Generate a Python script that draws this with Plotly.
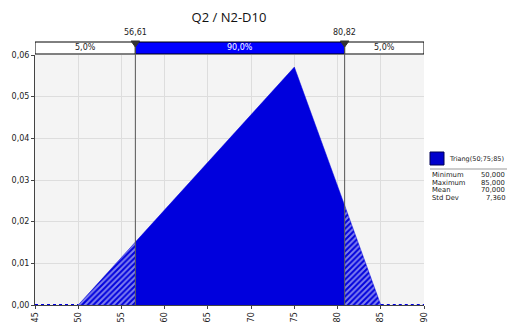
import plotly.graph_objects as go

# ---- data ----
title = "Q2 / N2-D10"
left_tail_x = [50, 56.61]
left_tail_y = [0.0, 0.0151]
main_x = [56.61, 75, 80.82]
main_y = [0.0151, 0.0571, 0.0239]
right_tail_x = [80.82, 85]
right_tail_y = [0.0239, 0.0]
base_left_x = [45, 50]
base_right_x = [85, 90]
lower_cut = 56.61
upper_cut = 80.82
cut_labels = ["56,61", "80,82"]
band_labels = ["5,0%", "90,0%", "5,0%"]
x_ticks = [45, 50, 55, 60, 65, 70, 75, 80, 85, 90]
y_ticks = [0.00, 0.01, 0.02, 0.03, 0.04, 0.05, 0.06]
dist_name = "Triang(50;75;85)"
stat_labels = ["Minimum", "Maximum", "Mean", "Std Dev"]
stat_values = ["50,000", "85,000", "70,000", "7,360"]

W, H = 507, 322
L, R, T, B = 35, 83, 55, 17
PW, PH = W - L - R, H - T - B
FONT = "DejaVu Sans"
BLUE = "#0000dd"

def px(p):  # pixel x -> paper
    return (p - L) / PW

def py(p):  # pixel y -> paper
    return (H - B - p) / PH

fig = go.Figure()
hatch = dict(shape="/", bgcolor=BLUE, fgcolor="white", size=4, solidity=0.5)
fig.add_trace(go.Scatter(x=left_tail_x, y=left_tail_y, mode="lines", fill="tozeroy",
                         line=dict(color=BLUE, width=0.5), fillpattern=hatch, fillcolor=BLUE))
fig.add_trace(go.Scatter(x=main_x, y=main_y, mode="lines", fill="tozeroy",
                         line=dict(color=BLUE, width=0.5), fillcolor=BLUE))
fig.add_trace(go.Scatter(x=right_tail_x, y=right_tail_y, mode="lines", fill="tozeroy",
                         line=dict(color=BLUE, width=0.5), fillpattern=hatch, fillcolor=BLUE))
for bx in (base_left_x, base_right_x):
    fig.add_trace(go.Scatter(x=bx, y=[0, 0], mode="lines",
                             line=dict(color=BLUE, width=2, dash="dot"), cliponaxis=False))

shapes = []
# top band
yb0, yb1 = py(54), py(42)
segs = [(x_ticks[0], lower_cut, "white"), (lower_cut, upper_cut, "#0000ff"), (upper_cut, x_ticks[-1], "white")]
for (a, b, c) in segs:
    shapes.append(dict(type="rect", xref="x", yref="paper", x0=a, x1=b, y0=yb0, y1=yb1,
                       fillcolor=c, line=dict(color="black", width=1)))
# cut lines and triangles
for c in (lower_cut, upper_cut):
    shapes.append(dict(type="line", xref="x", yref="paper", x0=c, x1=c, y0=0, y1=yb1,
                       line=dict(color="#555555", width=1)))
    hw = 0.5
    shapes.append(dict(type="path", xref="x", yref="paper",
                       path=f"M {c-hw},{py(41)} L {c+hw},{py(41)} L {c},{py(47)} Z",
                       fillcolor="#333333", line=dict(color="#333333", width=1)))
# legend swatch & separator
shapes.append(dict(type="rect", xref="paper", yref="paper", x0=px(430), x1=px(444), y0=py(165), y1=py(152),
                   fillcolor="#0000cc", line=dict(color="#000055", width=1)))
shapes.append(dict(type="line", xref="paper", yref="paper", x0=px(430), x1=px(507), y0=py(169), y1=py(169),
                   line=dict(color="#999999", width=1)))

ann = []
fs = 8
centers = [(x_ticks[0] + lower_cut) / 2, (lower_cut + upper_cut) / 2, (upper_cut + x_ticks[-1]) / 2]
for i, (cx, t) in enumerate(zip(centers, band_labels)):
    ann.append(dict(x=cx, y=py(48), xref="x", yref="paper", text=t, showarrow=False,
                    yanchor="middle", borderpad=0,
                    font=dict(family=FONT, size=fs, color="white" if i == 1 else "#222222")))
for c, t in zip((lower_cut, upper_cut), cut_labels):
    ann.append(dict(x=c, y=py(33), xref="x", yref="paper", text=t, showarrow=False,
                    yanchor="middle", borderpad=0,
                    font=dict(family=FONT, size=fs, color="#222222")))
ann.append(dict(x=px(448), y=py(159), xref="paper", yref="paper", text=dist_name, showarrow=False,
                xanchor="left", yanchor="middle", borderpad=0,
                font=dict(family=FONT, size=6.5, color="#222222")))
row_y = [175, 182.5, 190, 197.5]
for lab, val, ry in zip(stat_labels, stat_values, row_y):
    ann.append(dict(x=px(431), y=py(ry), xref="paper", yref="paper", text=lab, showarrow=False,
                    xanchor="left", yanchor="middle", borderpad=0,
                    font=dict(family=FONT, size=6.8, color="#222222")))
    ann.append(dict(x=px(506), y=py(ry), xref="paper", yref="paper", text=val, showarrow=False,
                    xanchor="right", yanchor="middle", borderpad=0,
                    font=dict(family=FONT, size=6.8, color="#222222")))

fig.update_layout(
    width=W, height=H, margin=dict(l=L, r=R, t=T, b=B, autoexpand=False),
    paper_bgcolor="white", plot_bgcolor="#f4f4f4",
    separators=",.", showlegend=False,
    title=dict(text=title, x=px(229), xref="paper", xanchor="center", y=1 - 17 / H, yanchor="middle",
               font=dict(family="Open Sans", size=13, color="#111111")),
    shapes=shapes, annotations=ann,
    xaxis=dict(range=[45, 90], tickvals=x_ticks, ticktext=[str(v) for v in x_ticks], tickangle=-90,
               automargin=False,
               showgrid=True, gridcolor="#dddddd", gridwidth=1, zeroline=False,
               showline=True, linecolor="#444444", linewidth=1, ticks="outside", ticklen=3,
               tickcolor="#444444", tickfont=dict(family=FONT, size=8, color="#222222")),
    yaxis=dict(range=[0, 0.06], tickvals=y_ticks, tickformat=".2f", automargin=False,
               showgrid=True, gridcolor="#dddddd", gridwidth=1, zeroline=False,
               showline=True, linecolor="#444444", linewidth=1, ticks="outside", ticklen=3,
               tickcolor="#444444", tickfont=dict(family=FONT, size=8, color="#222222")),
)
fig.write_html("out.html", config={"displayModeBar": False},
               post_script="document.body.style.margin='0';document.body.style.overflow='hidden';")
